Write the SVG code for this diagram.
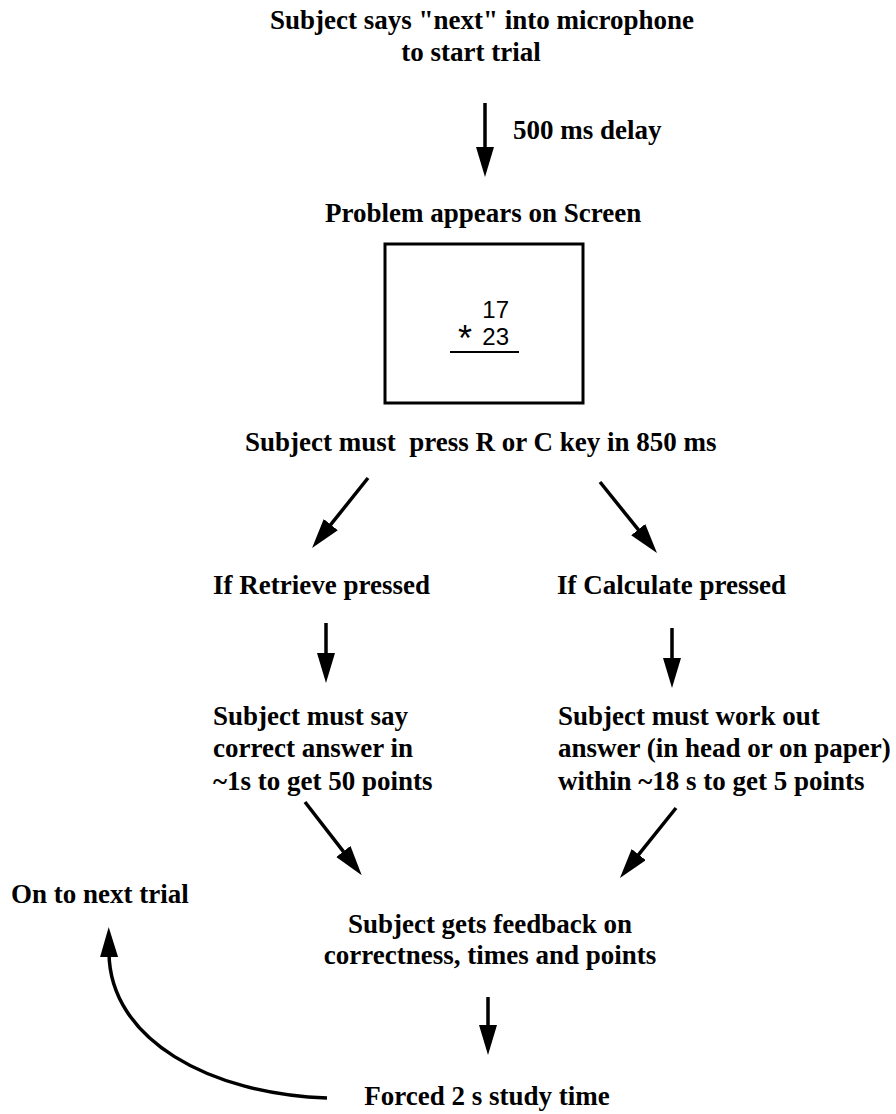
<svg xmlns="http://www.w3.org/2000/svg" width="896" height="1114" viewBox="0 0 896 1114">
<style>
.t{font-family:"Liberation Serif","Times New Roman",serif;font-weight:bold;font-size:27px;fill:#000}
.c{text-anchor:middle}
.d{font-family:"Liberation Sans",Arial,sans-serif;font-size:24px;fill:#000}
.a{stroke:#000;stroke-width:3.5;fill:none;marker-end:url(#ah)}
</style>
<defs>
<marker id="ah" markerUnits="userSpaceOnUse" markerWidth="32" markerHeight="20" refX="4" refY="9" orient="auto" viewBox="0 0 32 20">
<path d="M0,0 L30,9 L0,18 z" fill="#000"/>
</marker>
</defs>
<rect width="896" height="1114" fill="#fff"/>
<g id="start">
<text class="t c" x="482" y="29">Subject says "next" into microphone</text>
<text class="t c" x="471" y="61">to start trial</text>
</g>
<g id="delay-label"><text class="t" x="513" y="139">500 ms delay</text></g>
<g id="problem">
<text class="t" x="325" y="222">Problem appears on Screen</text>
<rect x="385" y="244" width="198" height="159" fill="none" stroke="#000" stroke-width="3"/>
<text class="d" x="509" y="318" text-anchor="end">17</text>
<text class="d" x="509" y="345" text-anchor="end">23</text>
<text class="d" x="465" y="351" text-anchor="middle" style="font-size:36px">*</text>
<line x1="450" y1="352" x2="519" y2="352" stroke="#000" stroke-width="2"/>
</g>
<g id="press"><text class="t" x="245" y="451" xml:space="preserve">Subject must  press R or C key in 850 ms</text></g>
<g id="retrieve"><text class="t" x="213" y="594">If Retrieve pressed</text></g>
<g id="calculate"><text class="t" x="557" y="594">If Calculate pressed</text></g>
<g id="retrieve-rule">
<text class="t" x="213" y="725">Subject must say</text>
<text class="t" x="213" y="757">correct answer in</text>
<text class="t" x="213" y="790">~1s to get 50 points</text>
</g>
<g id="calculate-rule">
<text class="t" x="558" y="725">Subject must work out</text>
<text class="t" x="558" y="757">answer (in head or on paper)</text>
<text class="t" x="558" y="790">within ~18 s to get 5 points</text>
</g>
<g id="next-trial"><text class="t" x="11" y="903">On to next trial</text></g>
<g id="feedback">
<text class="t c" x="490" y="933">Subject gets feedback on</text>
<text class="t c" x="490" y="964">correctness, times and points</text>
</g>
<g id="study"><text class="t c" x="487" y="1105">Forced 2 s study time</text></g>
<g id="connectors">
<line class="a" x1="485" y1="103" x2="485" y2="151"/>
<line class="a" x1="368" y1="478" x2="328.3" y2="527.7"/>
<line class="a" x1="600" y1="482" x2="640.7" y2="532.7"/>
<line class="a" x1="326" y1="623" x2="326" y2="657"/>
<line class="a" x1="672" y1="628" x2="672" y2="662"/>
<line class="a" x1="305" y1="802" x2="345.8" y2="854.6"/>
<line class="a" x1="676" y1="808" x2="636.2" y2="857.7"/>
<line class="a" x1="488" y1="997" x2="488" y2="1029"/>
<path class="a" d="M327,1098 C210,1094 110,1040 109,953"/>
</g>
</svg>
